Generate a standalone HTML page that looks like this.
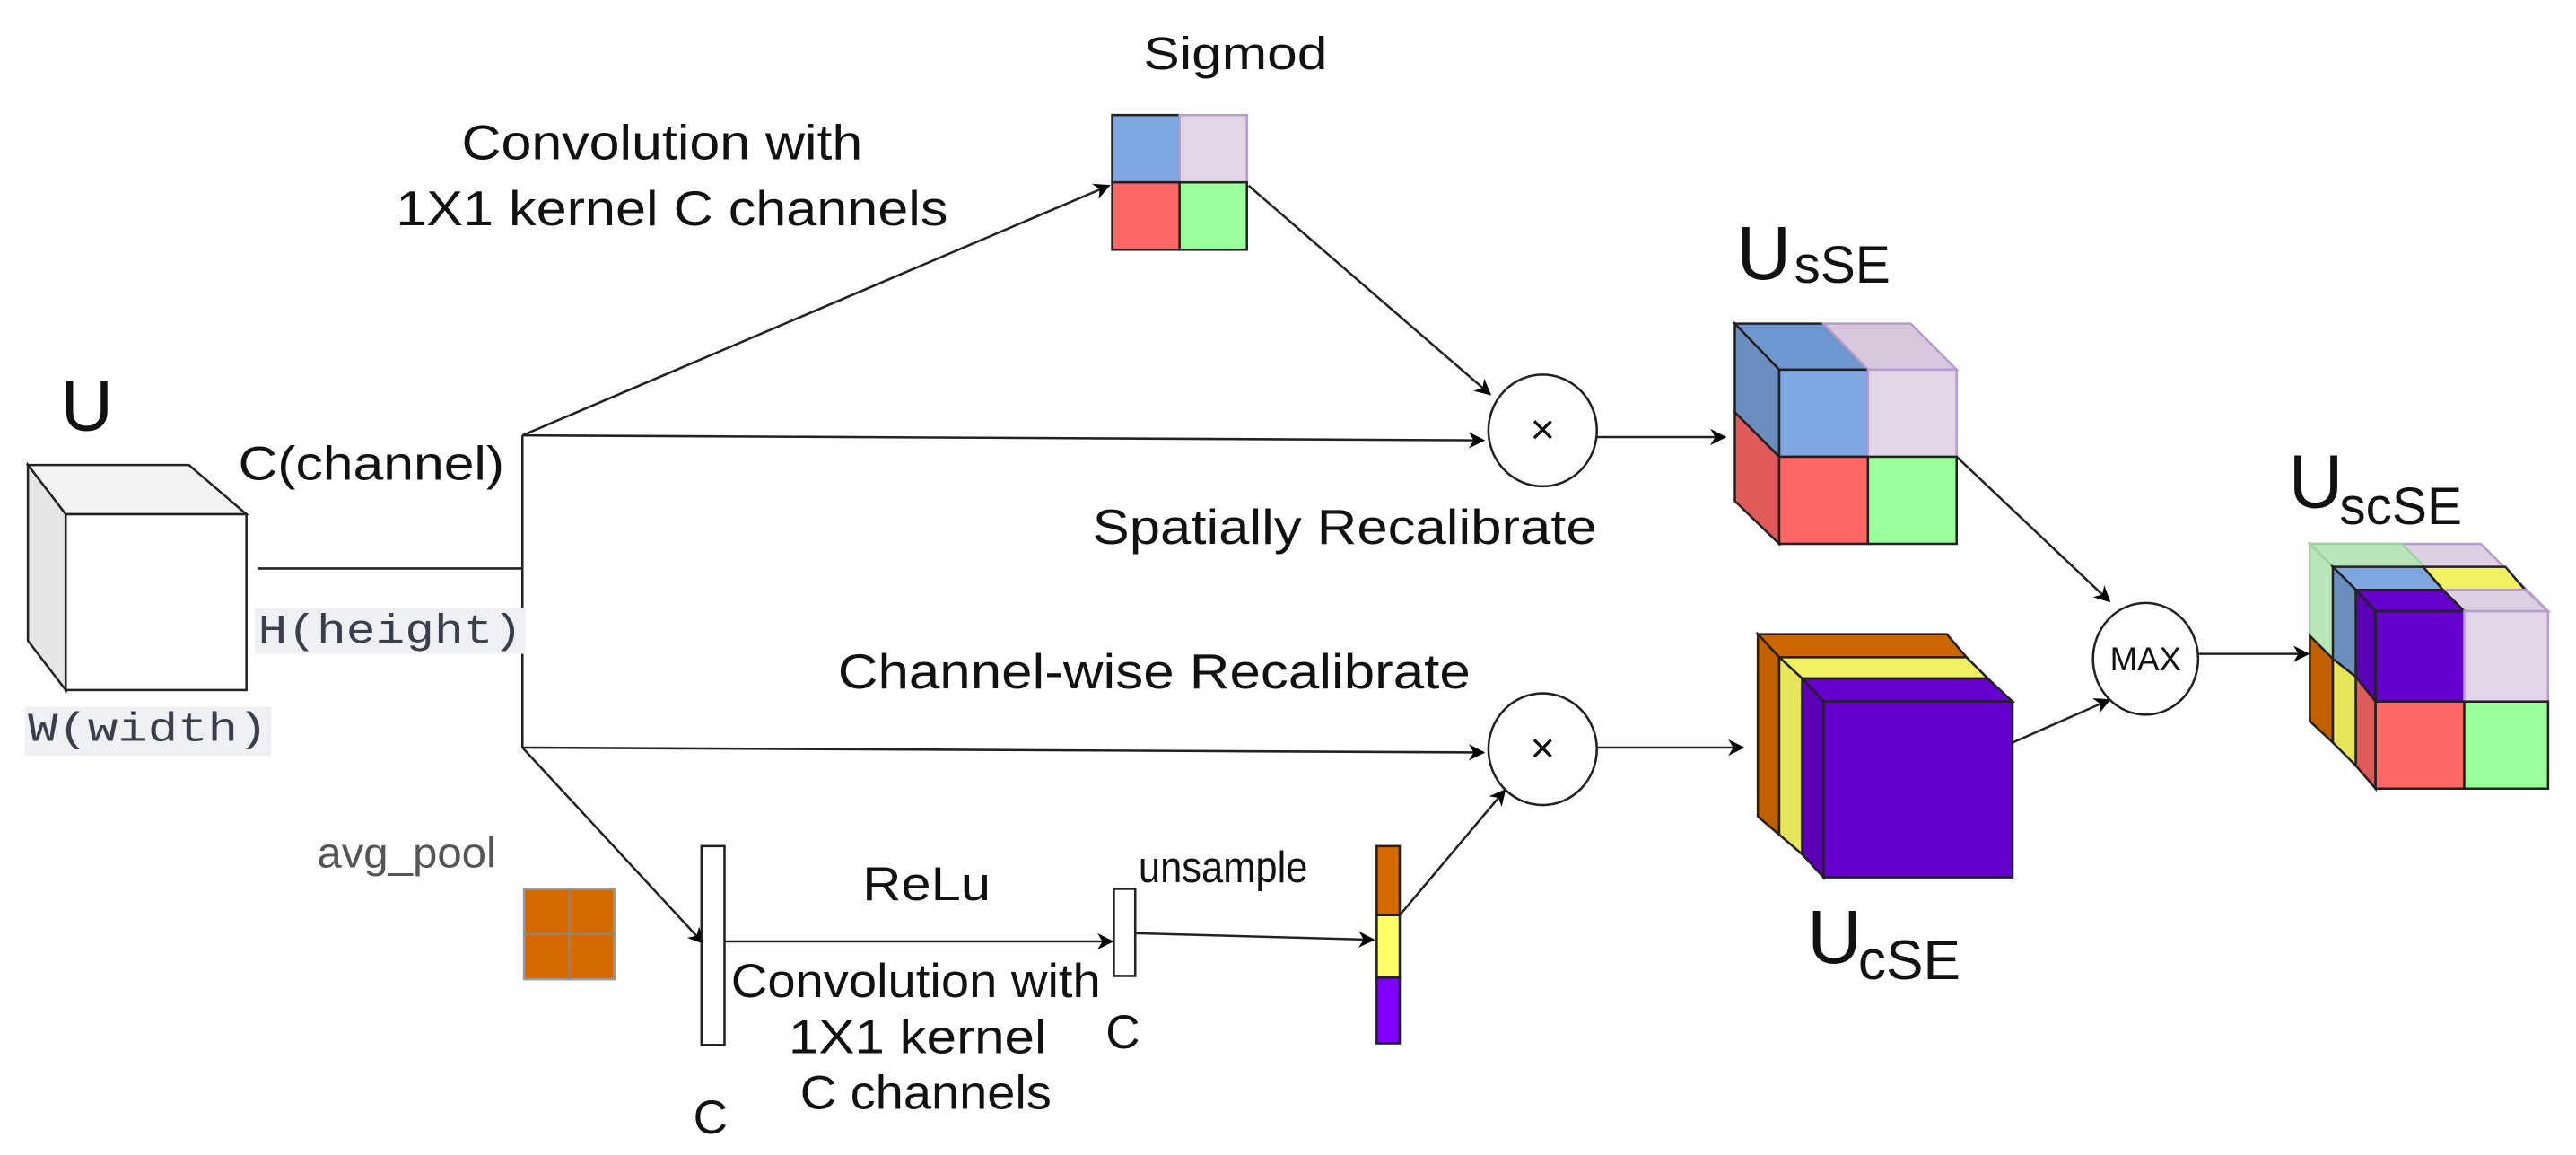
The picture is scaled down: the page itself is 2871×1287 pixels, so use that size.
<!DOCTYPE html>
<html><head><meta charset="utf-8"><style>
html,body{margin:0;padding:0;background:#fff;}
svg{display:block;}
text{font-family:"Liberation Sans",Arial,sans-serif;fill:#111;}
.m{font-family:"Liberation Mono","DejaVu Sans Mono",monospace;fill:#3a3f4b;}
</style></head><body>
<svg width="2871" height="1287" viewBox="0 0 1568 703" preserveAspectRatio="none" xmlns="http://www.w3.org/2000/svg">
<defs>
<marker id="a" markerWidth="10" markerHeight="10" refX="9" refY="5" orient="auto" markerUnits="userSpaceOnUse">
<path d="M0,0 L10,5 L0,10 L3,5 z" fill="#000"/></marker>
</defs>
<g stroke="#222" stroke-width="1.4" fill="none">
<polygon points="17,283 115,283 150,313 40,313" fill="#f2f2f2"/>
<polygon points="17,283 40,313 40,420 17,390" fill="#e6e6e6"/>
<rect x="40" y="313" width="110" height="107" fill="#fff"/>
<line x1="157" y1="346" x2="318" y2="346"/>
<line x1="318" y1="265" x2="318" y2="455"/>
<line x1="318" y1="265" x2="675" y2="113" marker-end="url(#a)"/>
<line x1="318" y1="265" x2="903" y2="268" marker-end="url(#a)"/>
<line x1="318" y1="455" x2="903" y2="458" marker-end="url(#a)"/>
<line x1="318" y1="455" x2="428" y2="574" marker-end="url(#a)"/>
<line x1="441" y1="573" x2="677" y2="573" marker-end="url(#a)"/>
<line x1="691" y1="568" x2="836" y2="572" marker-end="url(#a)"/>
<line x1="852" y1="557" x2="916" y2="481" marker-end="url(#a)"/>
<line x1="760" y1="113" x2="907" y2="240" marker-end="url(#a)"/>
<line x1="971" y1="266" x2="1050" y2="266" marker-end="url(#a)"/>
<line x1="971" y1="455" x2="1061" y2="455" marker-end="url(#a)"/>
<line x1="1191" y1="278" x2="1284" y2="366" marker-end="url(#a)"/>
<line x1="1225" y1="452" x2="1284" y2="426" marker-end="url(#a)"/>
<line x1="1338" y1="398" x2="1405" y2="398" marker-end="url(#a)"/>
<ellipse cx="939" cy="262" rx="33" ry="34" fill="#fff"/>
<ellipse cx="939" cy="456" rx="33" ry="34" fill="#fff"/>
<ellipse cx="1306" cy="401" rx="32" ry="34" fill="#fff"/>
<rect x="427" y="515" width="14" height="121" fill="#fff"/>
<rect x="678" y="541" width="13" height="53" fill="#fff"/>
<rect x="838" y="515" width="14" height="42" fill="#d46a00"/>
<rect x="838" y="557" width="14" height="38" fill="#ffff66"/>
<rect x="838" y="595" width="14" height="40" fill="#7f00ff"/>
<rect x="319" y="541" width="55" height="55" fill="#d46a00" stroke="#999"/>
<line x1="346.5" y1="541" x2="346.5" y2="596" stroke="#888"/>
<line x1="319" y1="568.5" x2="374" y2="568.5" stroke="#888"/>
<rect x="677" y="70" width="41" height="41" fill="#7ea6e0"/>
<rect x="718" y="70" width="41" height="41" fill="#e1d5e7" stroke="#b79ccc"/>
<rect x="677" y="111" width="41" height="41" fill="#ff6666"/>
<rect x="718" y="111" width="41" height="41" fill="#99ff99"/>
<polygon points="1056,197 1110,197 1137,225 1083,225" fill="#7098d0"/>
<polygon points="1110,197 1163,197 1191,225 1137,225" fill="#d8c8de" stroke="#b79ccc"/>
<polygon points="1056,197 1083,225 1083,278 1056,251" fill="#6c8ebf"/>
<polygon points="1056,251 1083,278 1083,331 1056,305" fill="#e05a5a"/>
<rect x="1083" y="225" width="54" height="53" fill="#7ea6e0"/>
<rect x="1137" y="225" width="54" height="53" fill="#e1d5e7" stroke="#b79ccc"/>
<rect x="1083" y="278" width="54" height="53" fill="#ff6666"/>
<rect x="1137" y="278" width="54" height="53" fill="#99ff99"/>
<polygon points="1070,386 1185,386 1197,400 1083,400" fill="#cc6600"/>
<polygon points="1070,386 1083,400 1083,508 1070,497" fill="#c06000"/>
<polygon points="1083,400 1197,400 1210,413 1097,413" fill="#f0f060"/>
<polygon points="1083,400 1097,413 1097,520 1083,508" fill="#e6e65a"/>
<polygon points="1097,413 1210,413 1225,427 1110,427" fill="#6600cc"/>
<polygon points="1097,413 1110,427 1110,534 1097,520" fill="#5c00b8"/>
<rect x="1110" y="427" width="115" height="107" fill="#6600cc"/>
<polygon points="1406,331 1510,331 1551,372 1446,372" fill="#ddd0e3" stroke="#b79ccc"/>
<polygon points="1406,331 1462,331 1476,345 1420,345" fill="#b9e6b9" stroke="#a0d0a0"/>
<polygon points="1406,331 1420,345 1420,401 1406,387" fill="#b9e6b9" stroke="#a0d0a0"/>
<polygon points="1406,387 1420,401 1420,452 1406,439" fill="#c06000"/>
<polygon points="1420,345 1475,345 1487,359 1434,359" fill="#7ea6e0"/>
<polygon points="1475,345 1525,345 1537,359 1487,359" fill="#f0f060"/>
<polygon points="1487,359 1537,359 1551,372 1500,372" fill="#ddd0e3" stroke="#b79ccc"/>
<polygon points="1420,345 1434,359 1434,412 1420,401" fill="#6c8ebf"/>
<polygon points="1420,401 1434,412 1434,466 1420,452" fill="#e6e65a"/>
<polygon points="1434,359 1487,359 1500,372 1446,372" fill="#6600cc"/>
<polygon points="1434,359 1446,372 1446,427 1434,412" fill="#5c00b8"/>
<polygon points="1434,412 1446,427 1446,480 1434,466" fill="#e05a5a"/>
<rect x="1446" y="372" width="54" height="55" fill="#6600cc"/>
<rect x="1500" y="372" width="51" height="55" fill="#e1d5e7" stroke="#b79ccc"/>
<rect x="1446" y="427" width="54" height="53" fill="#ff6666"/>
<rect x="1500" y="427" width="51" height="53" fill="#99ff99"/>
</g>
<rect x="155" y="370" width="165" height="28" fill="#eef0f4"/>
<rect x="15" y="430" width="150" height="30" fill="#eef0f4"/>
<text x="37" y="262" font-size="44">U</text>
<text x="145" y="292" font-size="29" textLength="162" lengthAdjust="spacingAndGlyphs">C(channel)</text>
<text class="m" x="157" y="391" font-size="25" textLength="161" lengthAdjust="spacingAndGlyphs">H(height)</text>
<text class="m" x="17" y="451" font-size="25" textLength="146" lengthAdjust="spacingAndGlyphs">W(width)</text>
<text x="696" y="42" font-size="28" textLength="112" lengthAdjust="spacingAndGlyphs">Sigmod</text>
<text x="281" y="97" font-size="30" textLength="244" lengthAdjust="spacingAndGlyphs">Convolution with</text>
<text x="241" y="137" font-size="30" textLength="336" lengthAdjust="spacingAndGlyphs">1X1 kernel C channels</text>
<text x="665" y="331" font-size="30" textLength="307" lengthAdjust="spacingAndGlyphs">Spatially Recalibrate</text>
<text x="510" y="419" font-size="30" textLength="385" lengthAdjust="spacingAndGlyphs">Channel-wise Recalibrate</text>
<text x="193" y="528" font-size="26" style="fill:#555" textLength="109" lengthAdjust="spacingAndGlyphs">avg_pool</text>
<text x="525" y="548" font-size="29" textLength="78" lengthAdjust="spacingAndGlyphs">ReLu</text>
<text x="693" y="537" font-size="27" textLength="103" lengthAdjust="spacingAndGlyphs">unsample</text>
<text x="445" y="607" font-size="29" textLength="225" lengthAdjust="spacingAndGlyphs">Convolution with</text>
<text x="480" y="641" font-size="29" textLength="157" lengthAdjust="spacingAndGlyphs">1X1 kernel</text>
<text x="487" y="675" font-size="29" textLength="153" lengthAdjust="spacingAndGlyphs">C channels</text>
<text x="422" y="690" font-size="29">C</text>
<text x="673" y="638" font-size="29">C</text>
<text x="939" y="270" font-size="26" text-anchor="middle">×</text>
<text x="939" y="464" font-size="26" text-anchor="middle">×</text>
<text x="1306" y="408" font-size="20" text-anchor="middle">MAX</text>
<text x="1057" y="170" font-size="46">U</text>
<text x="1092" y="172" font-size="32">sSE</text>
<text x="1100" y="586" font-size="46">U</text>
<text x="1131" y="596" font-size="34">cSE</text>
<text x="1393" y="309" font-size="46">U</text>
<text x="1424" y="319" font-size="32">scSE</text>
</svg>
</body></html>
